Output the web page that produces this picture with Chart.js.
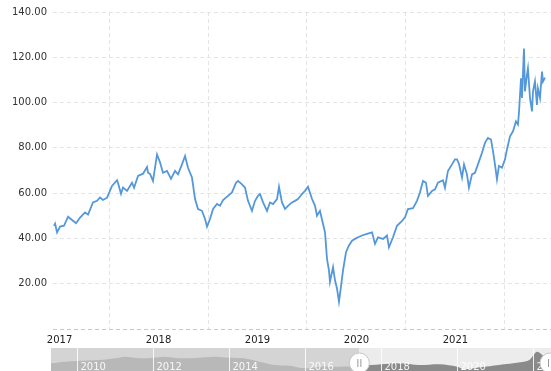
<!DOCTYPE html>
<html>
<head>
<meta charset="utf-8">
<script src="https://cdn.jsdelivr.net/npm/chart.js@4.4.1/dist/chart.umd.min.js"></script>
<style>
html, body { margin: 0; padding: 0; background: #fff; overflow: hidden; }
#wrap { position: relative; width: 551px; height: 371px; }
#main { position: absolute; left: 0; top: 0; }
#nav { position: absolute; left: 51px; top: 348px; }
</style>
</head>
<body>
<div id="wrap">
  <canvas id="main" width="551" height="346"></canvas>
  <canvas id="nav" width="500" height="23"></canvas>
</div>
<script>
// price series (decimal year -> price)
const dates = [
  2017.444, 2017.455, 2017.475, 2017.505, 2017.545, 2017.586, 2017.636, 2017.667, 2017.707, 2017.758,
  2017.788, 2017.838, 2017.879, 2017.909, 2017.939, 2017.980, 2018.030, 2018.081, 2018.091, 2018.121,
  2018.141, 2018.182, 2018.232, 2018.253, 2018.293, 2018.343, 2018.384, 2018.394, 2018.414, 2018.444,
  2018.485, 2018.515, 2018.545, 2018.586, 2018.626, 2018.667, 2018.697, 2018.737, 2018.768, 2018.798,
  2018.838, 2018.869, 2018.899, 2018.939, 2018.970, 2018.990, 2019.020, 2019.051, 2019.091, 2019.121,
  2019.152, 2019.202, 2019.242, 2019.283, 2019.303, 2019.343, 2019.374, 2019.404, 2019.444, 2019.475,
  2019.505, 2019.525, 2019.556, 2019.596, 2019.626, 2019.657, 2019.697, 2019.717, 2019.747, 2019.778,
  2019.808, 2019.848, 2019.879, 2019.909, 2019.949, 2019.980, 2020.010, 2020.051, 2020.081, 2020.101,
  2020.131, 2020.162, 2020.182, 2020.202, 2020.222, 2020.232, 2020.263, 2020.283, 2020.303, 2020.323,
  2020.343, 2020.364, 2020.394, 2020.424, 2020.455, 2020.485, 2020.515, 2020.556, 2020.606, 2020.657,
  2020.687, 2020.717, 2020.768, 2020.808, 2020.828, 2020.869, 2020.909, 2020.960, 2020.990, 2021.020,
  2021.071, 2021.111, 2021.141, 2021.172, 2021.202, 2021.222, 2021.263, 2021.293, 2021.323, 2021.374,
  2021.394, 2021.424, 2021.465, 2021.495, 2021.515, 2021.535, 2021.566, 2021.586, 2021.616, 2021.636,
  2021.667, 2021.697, 2021.727, 2021.768, 2021.798, 2021.828, 2021.859, 2021.879, 2021.899, 2021.919,
  2021.939, 2021.970, 2022.000, 2022.020, 2022.051, 2022.081, 2022.111, 2022.131, 2022.141, 2022.162,
  2022.172, 2022.192, 2022.202, 2022.222, 2022.232, 2022.253, 2022.273, 2022.283, 2022.303, 2022.323,
  2022.333, 2022.354, 2022.374, 2022.384, 2022.404
];
const prices = [
  45.5, 46.5, 42.7, 45.2, 45.6, 49.6, 47.8, 46.7, 49.2, 51.5,
  50.5, 55.9, 56.6, 58.1, 57.0, 58.0, 63.2, 65.7, 64.5, 59.7,
  62.5, 61.0, 64.6, 62.4, 67.6, 68.6, 71.5, 69.0, 68.5, 65.4,
  77.1, 73.6, 69.0, 69.8, 66.3, 69.8, 68.3, 72.7, 76.4, 71.2,
  66.9, 57.4, 53.0, 52.2, 48.6, 45.2, 48.6, 53.0, 55.2, 54.4,
  56.9, 58.8, 60.3, 64.6, 65.4, 63.9, 62.4, 56.6, 52.2, 56.6,
  58.8, 59.6, 55.9, 52.2, 55.9, 55.2, 57.4, 62.8, 55.9, 53.0,
  54.4, 55.9, 56.6, 57.4, 59.6, 61.0, 62.8, 57.4, 54.4, 50.0,
  52.2, 46.4, 42.7, 31.0, 25.9, 20.8, 27.3, 21.5, 17.9, 12.0,
  18.6, 25.9, 33.9, 36.9, 39.0, 39.8, 40.5, 41.3, 42.0, 42.7,
  37.6, 40.5, 39.8, 41.3, 36.1, 40.5, 45.6, 47.8, 49.3, 53.0,
  53.4, 56.6, 60.3, 65.4, 64.6, 58.8, 61.0, 61.7, 64.6, 65.7,
  62.4, 69.8, 72.7, 74.9, 74.9, 73.0, 66.9, 72.7, 68.3, 62.4,
  68.3, 69.0, 72.7, 77.8, 82.2, 84.4, 83.7, 78.6, 72.7, 66.1,
  72.0, 71.2, 74.9, 79.3, 85.1, 87.3, 91.7, 90.3, 95.4, 110.7,
  102.0, 123.9, 104.9, 112.2, 115.1, 102.0, 96.1, 104.9, 109.3, 99.0,
  106.3, 102.0, 113.7, 109.3, 111.0
];
const yearLabels = ['2017', '2018', '2019', '2020', '2021'];
const gridYears = [2018, 2019, 2020, 2021, 2022];
const yTicks = [0, 20, 40, 60, 80, 100, 120, 140];
const xMin = 2017.434, xMax = 2022.465;

// navigator (long history, smoothed)
const navDates = [
  2009.32, 2009.70, 2010.00, 2010.60, 2011.00, 2011.26, 2011.66, 2012.00, 2012.30, 2012.70,
  2013.20, 2013.60, 2014.00, 2014.40, 2014.80, 2015.20, 2015.60, 2016.00, 2016.40, 2016.90,
  2017.45, 2018.00, 2018.50, 2019.00, 2019.55, 2020.00, 2020.20, 2020.60, 2021.10, 2021.66,
  2021.90, 2022.10, 2022.30
];
const navLevels = [
  65.6, 77.8, 83.1, 90.7, 103.6, 115.8, 103.6, 108.2, 115.8, 103.6,
  108.2, 115.8, 108.2, 103.6, 77.8, 52.7, 47.4, 27.6, 39.8, 39.8,
  45.1, 58.0, 65.6, 52.7, 58.0, 39.8, 20.0, 35.2, 52.7, 73.2,
  90.7, 153.8, 115.8
];
const navYears = [2010, 2012, 2014, 2016, 2018, 2020, 2022];
const navMin = 2009.32, navMax = 2022.47;
const selStart = 2017.43;

const font = { family: 'DejaVu Sans, Verdana, sans-serif', size: 10 };

new Chart(document.getElementById('main'), {
  type: 'line',
  data: {
    datasets: [{
      data: dates.map((d, i) => ({ x: d, y: prices[i] })),
      borderColor: 'rgb(84, 152, 219)',
      borderWidth: 1.8,
      pointRadius: 0,
      tension: 0,
      fill: false
    }]
  },
  options: {
    responsive: false,
    animation: false,
    layout: { padding: { top: 9, right: 0, left: 0, bottom: 0 } },
    plugins: { legend: { display: false }, tooltip: { enabled: false } },
    scales: {
      x: {
        type: 'linear', min: xMin, max: xMax, position: 'bottom',
        afterBuildTicks: s => { s.ticks = gridYears.map(v => ({ value: v })); },
        afterFit: s => { s.height = 0; },
        ticks: { display: false },
        grid: { color: '#e4e4e4', drawTicks: false },
        border: { display: false, dash: [4, 3] }
      },
      xl: {
        type: 'linear', min: xMin, max: xMax, position: 'bottom',
        afterBuildTicks: s => { s.ticks = yearLabels.map(y => ({ value: Number(y) + 0.5 })); },
        afterFit: s => { s.height = 17; },
        ticks: {
          autoSkip: false, maxRotation: 0, padding: 5, color: '#222', font,
          callback: (v, i) => yearLabels[i]
        },
        grid: { display: false, drawTicks: false },
        border: { display: false }
      },
      y: {
        min: 0, max: 140,
        afterBuildTicks: s => { s.ticks = yTicks.map(v => ({ value: v })); },
        afterFit: s => { s.width = 53; },
        ticks: {
          padding: 6, color: '#333', font,
          callback: v => v === 0 ? '' : v.toFixed(2)
        },
        grid: {
          color: c => c.tick && c.tick.value === 0 ? '#c9c9c9' : '#e4e4e4',
          drawTicks: false
        },
        border: { display: false, dash: [4, 3] }
      }
    }
  }
});

const navDecor = {
  id: 'navDecor',
  beforeDatasetsDraw(chart) {
    const { ctx, chartArea: a, scales } = chart;
    const xs = scales.x.getPixelForValue(selStart);
    ctx.save();
    ctx.fillStyle = '#d4d4d4';
    ctx.fillRect(a.left, a.top, xs - a.left, a.bottom - a.top);
    ctx.fillStyle = '#ececec';
    ctx.fillRect(xs, a.top, a.right - xs, a.bottom - a.top);
    ctx.restore();
  },
  afterDatasetsDraw(chart) {
    const { ctx, chartArea: a, scales } = chart;
    ctx.save();
    ctx.strokeStyle = 'rgba(255,255,255,0.85)';
    ctx.lineWidth = 1;
    ctx.font = '10px DejaVu Sans, Verdana, sans-serif';
    ctx.fillStyle = 'rgba(255,255,255,0.9)';
    ctx.textBaseline = 'middle';
    navYears.forEach(y => {
      const px = Math.round(scales.x.getPixelForValue(y)) + 0.5;
      ctx.beginPath();
      ctx.moveTo(px, a.top);
      ctx.lineTo(px, a.bottom);
      ctx.stroke();
      ctx.fillText(String(y), px + 3, 19);
    });
    // range handles
    [selStart, navMax].forEach((v, i) => {
      const hx = i === 0 ? scales.x.getPixelForValue(v) : a.right - 1;
      ctx.beginPath();
      ctx.arc(hx, 15, 10, 0, Math.PI * 2);
      ctx.fillStyle = '#fff';
      ctx.fill();
      ctx.strokeStyle = '#c8c8c8';
      ctx.stroke();
      ctx.strokeStyle = '#999';
      ctx.beginPath();
      ctx.moveTo(hx - 1.5, 11); ctx.lineTo(hx - 1.5, 19);
      ctx.moveTo(hx + 1.5, 11); ctx.lineTo(hx + 1.5, 19);
      ctx.stroke();
    });
    ctx.restore();
  }
};

new Chart(document.getElementById('nav'), {
  type: 'line',
  data: {
    datasets: [{
      data: navDates.map((d, i) => ({ x: d, y: navLevels[i] })),
      borderWidth: 0,
      pointRadius: 0,
      tension: 0.3,
      fill: 'start',
      backgroundColor: c => {
        const ch = c.chart, a = ch.chartArea;
        if (!a) return '#b8b8b8';
        const xs = ch.scales.x.getPixelForValue(selStart);
        const t = Math.min(1, Math.max(0, (xs - a.left) / (a.right - a.left)));
        const g = ch.ctx.createLinearGradient(a.left, 0, a.right, 0);
        g.addColorStop(0, '#b8b8b8');
        g.addColorStop(t, '#b8b8b8');
        g.addColorStop(t, '#8a8a8a');
        g.addColorStop(1, '#8a8a8a');
        return g;
      }
    }]
  },
  options: {
    responsive: false,
    animation: false,
    layout: { padding: 0 },
    plugins: { legend: { display: false }, tooltip: { enabled: false } },
    scales: {
      x: { type: 'linear', min: navMin, max: navMax, display: false },
      y: { min: 7, max: 182, display: false }
    }
  },
  plugins: [navDecor]
});
</script>
</body>
</html>
